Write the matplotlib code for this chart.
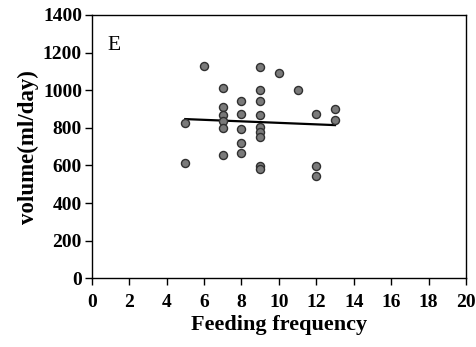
import numpy as np
import matplotlib
matplotlib.use('Agg')
import matplotlib.pyplot as plt

plt.rcParams['font.family'] = ['Liberation Serif', 'DejaVu Serif']

# feeding frequency vs. daily volume
freq = [5, 5, 6, 7, 7, 7, 7, 7, 7, 8, 8, 8, 8, 8,
        9, 9, 9, 9, 9, 9, 9, 9, 9, 10, 11, 12, 12, 12, 13, 13]
volume = [824, 611, 1130, 1010, 912, 868, 838, 801, 655, 944, 873, 794, 718, 664,
          1125, 1001, 944, 870, 806, 779, 750, 599, 579, 1093, 1001, 873, 599, 546, 898, 842]
xticks = list(range(0, 21, 2))
yticks = list(range(0, 1401, 200))

freq = np.array(freq)
volume = np.array(volume)
slope, icpt = np.polyfit(freq, volume, 1)
xfit = np.array([freq.min(), freq.max()])

fig = plt.figure(figsize=(4.76, 3.47), dpi=100)
ax = fig.add_axes([0.1926, 0.198, 0.7864, 0.7588])

ax.plot(xfit, slope * xfit + icpt, color='black', lw=1.6, zorder=2)
ax.plot(freq, volume, 'o', ms=5.8, mfc='#7a7a7a', mec='#303030', mew=1.0, zorder=3)

ax.set_xlim(0, 20)
ax.set_ylim(0, 1400)
ax.set_xticks(xticks)
ax.set_yticks(yticks)
ax.tick_params(direction='out', length=5, width=1, labelsize=14)
ax.tick_params(axis='x', pad=6)
ax.tick_params(axis='y', pad=2)
for lab in ax.get_xticklabels() + ax.get_yticklabels():
    lab.set_fontweight('bold')
for sp in ax.spines.values():
    sp.set_linewidth(1)

ax.set_xlabel('Feeding frequency', fontsize=16, fontweight='bold', labelpad=3)
ax.set_ylabel('volume(ml/day)', fontsize=16.5, fontweight='bold', labelpad=3)
ax.text(0.041, 0.92, 'E', transform=ax.transAxes, fontsize=15.5,
        va='top', ha='left')

fig.savefig('out.png', dpi=100)
